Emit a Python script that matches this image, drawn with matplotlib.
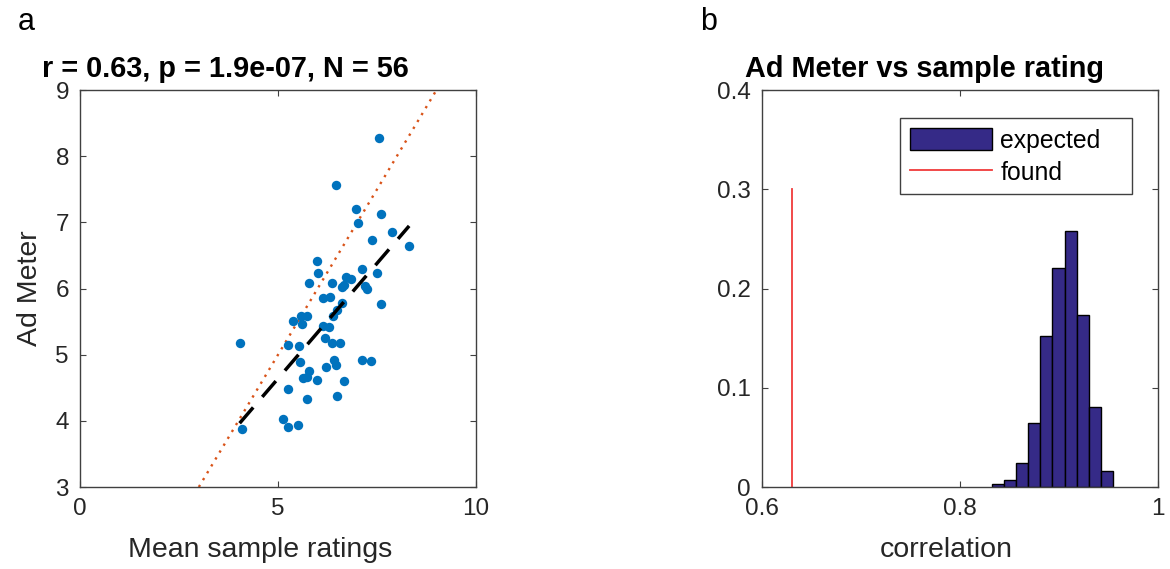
import numpy as np
import matplotlib
matplotlib.use('Agg')
import matplotlib.pyplot as plt

plt.rcParams['font.family'] = ['Liberation Sans', 'DejaVu Sans']

# panel a: mean sample rating vs Ad Meter score (one point per ad)
sample_ratings = [7.54, 6.46, 6.97, 7.60, 7.02, 7.87, 7.37, 8.31, 5.98, 7.13,
                  6.02, 7.49, 6.72, 6.84, 5.78, 6.36, 6.62, 6.67, 7.20, 7.25,
                  6.14, 6.32, 6.62, 7.61, 6.50, 6.40, 5.58, 5.74, 5.39, 5.61,
                  6.13, 6.29, 4.03, 5.25, 5.52, 6.18, 6.36, 6.56, 5.56, 6.41,
                  6.47, 6.21, 7.12, 7.35, 5.77, 5.63, 5.73, 5.99, 6.67, 5.24,
                  5.73, 6.50, 5.13, 5.51, 5.26, 4.09]
ad_meter = [8.28, 7.57, 7.20, 7.12, 6.99, 6.86, 6.74, 6.64, 6.41, 6.29,
            6.23, 6.23, 6.17, 6.14, 6.08, 6.08, 6.03, 6.05, 6.04, 6.00,
            5.86, 5.87, 5.78, 5.77, 5.67, 5.59, 5.59, 5.58, 5.51, 5.47,
            5.43, 5.42, 5.18, 5.14, 5.13, 5.25, 5.18, 5.17, 4.89, 4.92,
            4.84, 4.81, 4.92, 4.91, 4.76, 4.65, 4.66, 4.61, 4.60, 4.48,
            4.33, 4.37, 4.03, 3.94, 3.90, 3.88]
corr_text = 'r = 0.63, p = 1.9e-07, N = 56'

# panel b: distribution of expected correlations vs the one found
hist_edges = [0.8323, 0.8445, 0.8567, 0.8689, 0.8811, 0.8933,
              0.9055, 0.9177, 0.9299, 0.9421, 0.9542]
hist_freq = [0.0035, 0.0069, 0.0238, 0.0643, 0.152, 0.221,
             0.258, 0.173, 0.081, 0.016]
found_r = 0.63
found_height = 0.3

axis_col = '#404040'
text_col = '#262626'
tick_fs = 17.5
label_fs = 20.5

fig = plt.figure(figsize=(11.7, 5.69), dpi=100)
ax1 = fig.add_axes([0.0684, 0.1441, 0.3385, 0.6977])
ax2 = fig.add_axes([0.6513, 0.1441, 0.3385, 0.6977])

for ax in (ax1, ax2):
    for sp in ax.spines.values():
        sp.set_color(axis_col)
        sp.set_linewidth(1.0)
    ax.tick_params(direction='in', length=4, width=0.8, colors=axis_col,
                   labelcolor=text_col, labelsize=tick_fs, pad=8,
                   top=True, right=True)

# --- a ---
x = np.array(sample_ratings)
y = np.array(ad_meter)
ax1.plot([3, 9], [3, 9], linestyle=(0, (1, 2.4)), color='#D95319', lw=1.7)
ax1.scatter(x, y, s=46, color='#0072BD', zorder=3, linewidths=0)
slope, icpt = np.polyfit(x, y, 1)
xf = np.array([x.min(), x.max()])
ax1.plot(xf, slope * xf + icpt, color='black', lw=2.5,
         linestyle=(0, (6, 4)), zorder=4)
ax1.set_xlim(0, 10)
ax1.set_ylim(3, 9)
ax1.set_xticks([0, 5, 10])
ax1.set_yticks([3, 4, 5, 6, 7, 8, 9])
ax1.set_xlabel('Mean sample ratings', fontsize=label_fs, color=text_col)
ax1.set_ylabel('Ad Meter', fontsize=label_fs, color=text_col)
ax1.xaxis.set_label_coords(0.455, -0.125)
ax1.yaxis.set_label_coords(-0.094, 0.5)
ax1.text(0.366, 1.034, corr_text, transform=ax1.transAxes, ha='center',
         va='baseline', fontsize=20.8, fontweight='bold')

# --- b ---
edges = np.array(hist_edges)
bars = ax2.bar(edges[:-1], hist_freq, width=np.diff(edges), align='edge',
               color='#352A87', edgecolor='black', linewidth=1.0,
               label='expected')
line, = ax2.plot([found_r, found_r], [0, found_height], color='#f03a3a',
                 lw=1.3, label='found')
ax2.set_xlim(0.6, 1.0)
ax2.set_ylim(0, 0.4)
ax2.set_xticks([0.6, 0.8, 1.0])
ax2.set_xticklabels(['0.6', '0.8', '1'])
ax2.set_yticks([0, 0.1, 0.2, 0.3, 0.4])
ax2.set_yticklabels(['0', '0.1', '0.2', '0.3', '0.4'])
ax2.set_xlabel('correlation', fontsize=label_fs, color=text_col)
ax2.xaxis.set_label_coords(0.465, -0.125)
ax2.text(0.409, 1.034, 'Ad Meter vs sample rating', transform=ax2.transAxes,
         ha='center', va='baseline', fontsize=20.8, fontweight='bold')
leg = ax2.legend(handles=[bars, line], loc='upper left',
                 bbox_to_anchor=(0.3485, 0.0, 0.586, 0.929), mode='expand',
                 borderaxespad=0, fontsize=17.8, frameon=True, fancybox=False,
                 framealpha=1, edgecolor=axis_col, handlelength=3.3,
                 handleheight=1.0, handletextpad=0.35, labelspacing=0.3,
                 borderpad=0.4)
leg.get_frame().set_linewidth(1.0)

fig.text(18 / 1170, 1 - 30 / 569, 'a', fontsize=22, va='baseline')
fig.text(700 / 1170, 1 - 30 / 569, 'b', fontsize=22, va='baseline')

fig.savefig('out.png', dpi=100)
